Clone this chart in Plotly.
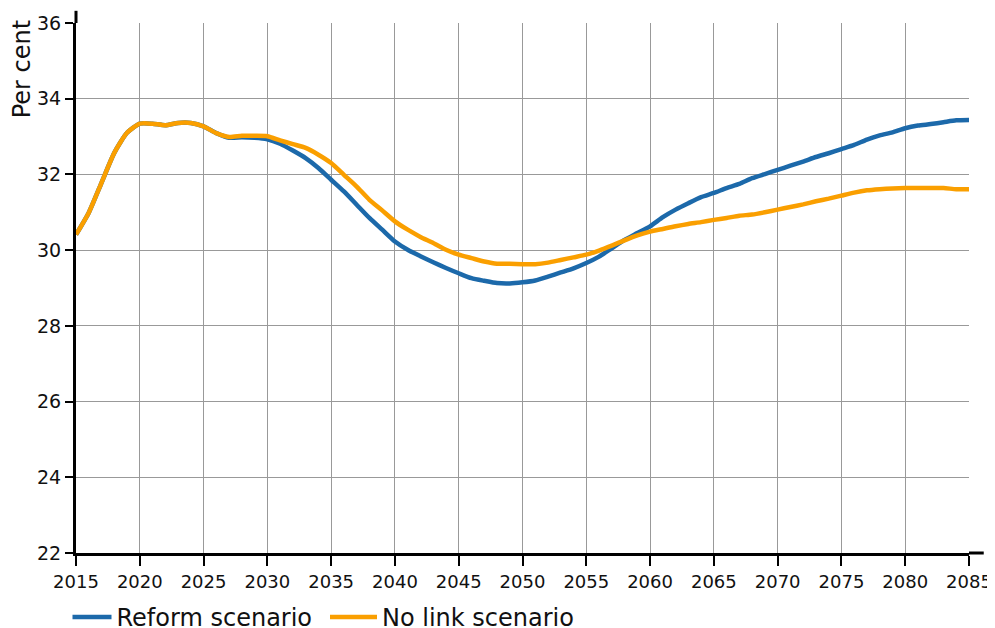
import plotly.graph_objects as go

years = list(range(2015, 2086))

reform = [
    30.41, 30.99, 31.78, 32.57, 33.10, 33.34, 33.34, 33.30, 33.36, 33.36,
    33.27, 33.09, 32.97, 32.98, 32.97, 32.93, 32.81, 32.63, 32.43, 32.17,
    31.86, 31.55, 31.20, 30.85, 30.54, 30.23, 30.01, 29.84, 29.68, 29.53,
    29.39, 29.26, 29.19, 29.13, 29.12, 29.15, 29.20, 29.30, 29.41, 29.52,
    29.66, 29.83, 30.05, 30.27, 30.45, 30.63, 30.87, 31.07, 31.24, 31.40,
    31.51, 31.64, 31.75, 31.90, 32.01, 32.12, 32.23, 32.34, 32.46, 32.56,
    32.67, 32.78, 32.92, 33.03, 33.11, 33.22, 33.29, 33.33, 33.38, 33.43,
    33.44,
]

no_link = [
    30.41, 30.99, 31.78, 32.57, 33.10, 33.34, 33.34, 33.30, 33.36, 33.36,
    33.27, 33.09, 32.99, 33.02, 33.02, 33.01, 32.90, 32.80, 32.70, 32.52,
    32.30, 31.99, 31.68, 31.33, 31.05, 30.76, 30.54, 30.35, 30.19, 30.01,
    29.88, 29.79, 29.70, 29.64, 29.64, 29.63, 29.63, 29.67, 29.74, 29.81,
    29.88, 29.99, 30.12, 30.26, 30.39, 30.49, 30.56, 30.63, 30.69, 30.74,
    30.80, 30.85, 30.91, 30.94, 31.00, 31.07, 31.14, 31.21, 31.29, 31.36,
    31.44, 31.52, 31.58, 31.61, 31.63, 31.64, 31.64, 31.64, 31.64, 31.61,
    31.61,
]

x_ticks = list(range(2015, 2086, 5))
y_ticks = list(range(22, 37, 2))

series_names = ["Reform scenario", "No link scenario"]
colors = ["#1c69aa", "#fa9f00"]
legend_ids = ["legend", "legend2"]

FONT = "DejaVu Sans, Verdana, sans-serif"

# page has an 8px body margin, so the figure is 987x620 placed at (8, 8)
W, H = 987, 620

fig = go.Figure()
for name, vals, col, lg in zip(series_names, [reform, no_link], colors, legend_ids):
    fig.add_trace(go.Scatter(
        x=years, y=vals, mode="lines", name=name, legend=lg,
        line=dict(color=col, width=4.5, shape="spline", smoothing=0.6),
    ))

legend_common = dict(
    orientation="h", xref="container", yref="container",
    xanchor="left", y=1 - 609.5 / H, yanchor="middle",
    font=dict(family=FONT, size=24, color="#111111"),
    tracegroupgap=0, bgcolor="rgba(0,0,0,0)",
)

fig.update_layout(
    width=W, height=H,
    margin=dict(l=68, r=26, t=15, b=75, autoexpand=False),
    paper_bgcolor="white", plot_bgcolor="white",
    font=dict(family=FONT, color="#111111"),
    showlegend=True,
    legend=dict(x=59.5 / W, itemwidth=39, **legend_common),
    legend2=dict(x=317 / W, itemwidth=47, **legend_common),
    xaxis=dict(
        range=[2015, 2085], tickmode="array", tickvals=x_ticks,
        ticktext=[str(t) for t in x_ticks],
        showgrid=True, gridcolor="#999999", gridwidth=1,
        showline=True, linecolor="black", linewidth=3,
        ticks="outside", ticklen=10, tickcolor="black", tickwidth=1.5,
        tickfont=dict(family=FONT, size=18, color="#111111"),
        zeroline=False, fixedrange=True, automargin=False,
    ),
    yaxis=dict(
        range=[22, 36], tickmode="array", tickvals=y_ticks,
        ticktext=[str(t) for t in y_ticks],
        showgrid=True, gridcolor="#999999", gridwidth=1,
        showline=True, linecolor="black", linewidth=3,
        ticks="outside", ticklen=8, tickcolor="black", tickwidth=1.5,
        tickfont=dict(family=FONT, size=19, color="#111111"),
        zeroline=False, fixedrange=True, automargin=False,
    ),
    annotations=[dict(
        text="Per cent", textangle=-90, showarrow=False,
        xref="paper", yref="paper", x=-0.061, y=1.008,
        xanchor="center", yanchor="top",
        font=dict(family=FONT, size=24, color="#111111"),
    )],
    shapes=[
        dict(type="line", xref="paper", yref="paper", x0=0, x1=0, y0=1, y1=1.023,
             line=dict(color="black", width=3)),
        dict(type="line", xref="paper", yref="paper", x0=1, x1=1.0165, y0=0, y1=0,
             line=dict(color="black", width=3)),
    ],
)

fig.write_html("out.html")
